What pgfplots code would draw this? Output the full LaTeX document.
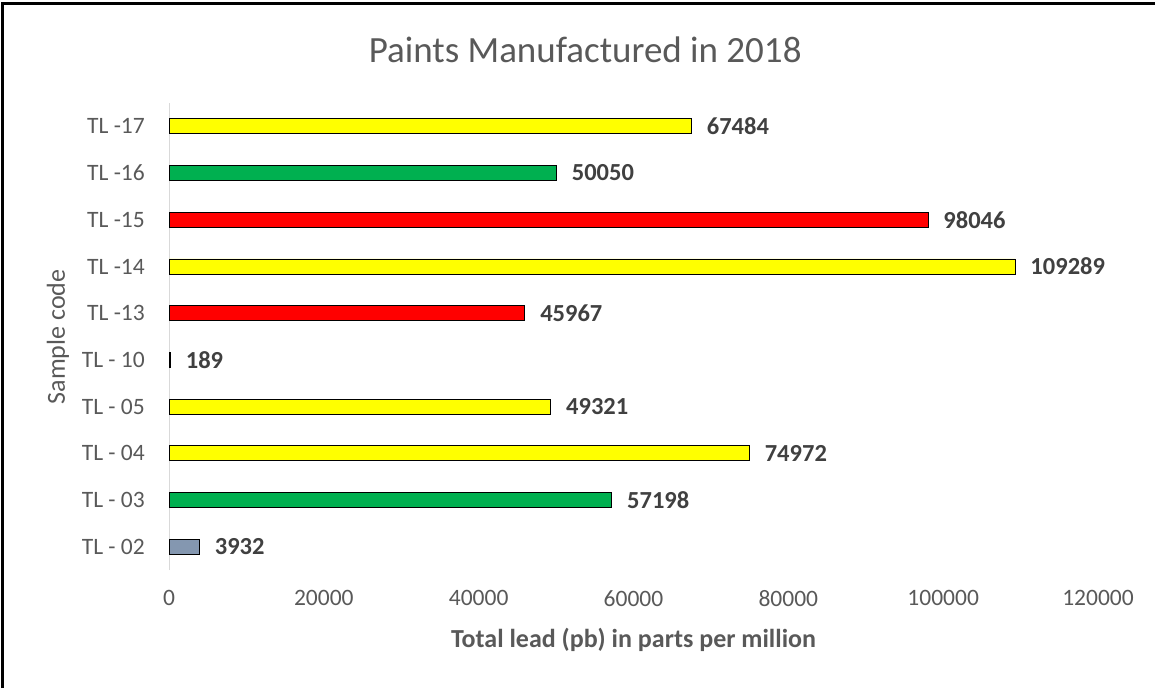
\documentclass[border=0pt]{standalone}
\usepackage{fontspec}
\setmainfont{Carlito}
\usepackage{pgfplots}
\pgfplotsset{compat=1.18}
\definecolor{txt}{HTML}{595959}
\definecolor{lbl}{HTML}{404040}
\definecolor{axgray}{HTML}{D9D9D9}
\definecolor{cyel}{HTML}{FFFF00}
\definecolor{cgrn}{HTML}{00B050}
\definecolor{cred}{HTML}{FF0000}
\definecolor{cgb}{HTML}{8497B0}
\begin{document}
\begin{tikzpicture}
\useasboundingbox (0,0) rectangle (1155pt,688pt);
\draw[line width=3pt] (2.5pt,0) -- (2.5pt,684.5pt) -- (1155pt,684.5pt);
\begin{axis}[
  at={(169pt,118pt)}, anchor=south west,
  scale only axis, width=929pt, height=467pt,
  xmin=0, xmax=120000, ymin=-0.5, ymax=9.5,
  xtick={0,20000,40000,60000,80000,100000,120000},
  ytick={0,...,9},
  yticklabels={TL - 02,TL - 03,TL - 04,TL - 05,TL - 10,TL -13,TL -14,TL -15,TL -16,TL -17},
  scaled x ticks=false,
  xticklabel={\pgfmathprintnumber[fixed,precision=0,1000 sep={},assume math mode=true]{\tick}},
  major tick length=0pt,
  axis lines*=left,
  x axis line style={draw=none},
  y axis line style={draw=axgray, line width=1pt},
  ticklabel style={font=\fontsize{23.5}{28}\selectfont, text=txt},
  xticklabel style={inner sep=0pt, yshift=-20pt},
  yticklabel style={inner sep=0pt, xshift=-24pt},
  title={Paints Manufactured in 2018},
  title style={at={(axis description cs:0.448,1.101)}, anchor=center, font=\fontsize{37}{44}\selectfont, text=txt},
  xlabel={\textbf{Total lead (pb) in parts per million}},
  xlabel style={at={(axis description cs:0.5,-0.15)}, anchor=center, font=\fontsize{26}{31}\selectfont, text=txt},
  ylabel={Sample code},
  ylabel style={at={(axis description cs:-0.1195,0.499)}, anchor=center, rotate=0, font=\fontsize{26}{31}\selectfont, text=txt},
  point meta=x,
  nodes near coords={\pgfmathprintnumber[fixed,precision=0,1000 sep={},assume math mode=true]{\pgfplotspointmeta}},
  nodes near coords style={anchor=west, inner sep=0pt, xshift=15pt, font=\bfseries\fontsize{24.5}{29}\selectfont, text=lbl},
  every axis plot/.append style={xbar, bar width=15pt, bar shift=0pt, draw=black, line width=0.8pt},
  clip=false,
]
\addplot[fill=cyel] coordinates {(67484,9) (109289,6) (49321,3) (74972,2)};
\addplot[fill=cgrn] coordinates {(50050,8) (57198,1)};
\addplot[fill=cred] coordinates {(98046,7) (45967,5)};
\addplot[fill=cgb] coordinates {(3932,0)};
\addplot[fill=black] coordinates {(189,4)};
\end{axis}
\end{tikzpicture}
\end{document}
